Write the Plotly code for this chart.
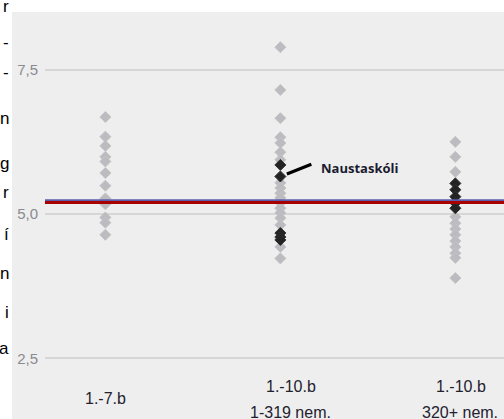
import plotly.graph_objects as go

# ---- data ----
categories = ["1.-7.b", "1.-10.b 1-319 nem.", "1.-10.b 320+ nem."]
tick_line1 = ["1.-7.b", "1.-10.b", "1.-10.b"]
tick_line2 = ["", "1-319 nem.", "320+ nem."]

gray_values = [
    [6.68, 6.34, 6.18, 5.99, 5.91, 5.71, 5.49, 5.27, 5.17, 4.94, 4.85, 4.64],
    [7.89, 7.15, 6.66, 6.33, 6.23, 6.07, 5.94, 5.54, 5.45, 5.36, 5.28, 5.19,
     5.10, 5.02, 4.93, 4.81, 4.43, 4.23],
    [6.25, 5.99, 5.73, 4.95, 4.84, 4.74, 4.64, 4.53, 4.43, 4.32, 4.24, 3.89],
]
black_values = [
    [],
    [5.85, 5.65, 4.67, 4.60, 4.55],
    [5.53, 5.42, 5.30, 5.19, 5.10],
]
red_line_value = 5.20
blue_line_value = 5.24
label_text = "Naustaskóli"
label_category = categories[1]
label_value = 5.65
y_ticks = [2.5, 5.0, 7.5]
y_tick_text = ["2,5", "5,0", "7,5"]

# left-edge fragments of neighbouring page text
side_chars = ["r", "-", "-", "n", "g", "r", "í", "n", "i", "a"]
side_rows = [6, 43, 72, 118, 163, 192, 234, 273, 312, 348]

# ---- layout geometry ----
W, H = 504, 419
ML, MR, MT, MB = 45, 0, 12, 44
PW, PH = W - ML - MR, H - MT - MB


def px_x(p):
    return (p - ML) / PW


def px_y(p):
    return 1 - (p - MT) / PH


fig = go.Figure()

gx, gy, bx, by = [], [], [], []
for c, vals in zip(categories, gray_values):
    gx += [c] * len(vals)
    gy += vals
for c, vals in zip(categories, black_values):
    bx += [c] * len(vals)
    by += vals

fig.add_trace(go.Scatter(x=gx, y=gy, mode="markers",
                         marker=dict(symbol="diamond", size=8.5, color="#bcbcc0",
                                     line=dict(width=1, color="#c4c4c7")),
                         hoverinfo="y", showlegend=False))
fig.add_trace(go.Scatter(x=bx, y=by, mode="markers",
                         marker=dict(symbol="diamond", size=8.5, color="#232323",
                                     line=dict(width=1, color="#303030")),
                         hoverinfo="y", showlegend=False))

shapes = [
    dict(type="line", xref="paper", x0=0, x1=1, yref="y",
         y0=blue_line_value, y1=blue_line_value,
         line=dict(color="#5c5cab", width=1.6)),
    dict(type="line", xref="paper", x0=0, x1=1, yref="y",
         y0=red_line_value, y1=red_line_value,
         line=dict(color="#a80000", width=3)),
    # white page border outside the grey chart card
    dict(type="rect", xref="paper", yref="paper", x0=px_x(-5), x1=px_x(W + 5),
         y0=px_y(12), y1=px_y(-10), fillcolor="white", line=dict(width=0),
         layer="above"),
    dict(type="rect", xref="paper", yref="paper", x0=px_x(-5), x1=px_x(12),
         y0=px_y(H + 10), y1=px_y(-10), fillcolor="white", line=dict(width=0),
         layer="above"),
]

annotations = []
tick_font = dict(family="Liberation Sans", size=16, color="#22222e")
for i, (c, l1, l2) in enumerate(zip(categories, tick_line1, tick_line2)):
    xs = [0, 11, 6][i]
    if l2:
        annotations.append(dict(x=c, xref="x", y=px_y(386.5), yref="paper",
                                yanchor="middle", text=l1, showarrow=False,
                                xshift=xs, font=tick_font))
        annotations.append(dict(x=c, xref="x", y=px_y(412), yref="paper",
                                yanchor="middle", text=l2, showarrow=False,
                                xshift=xs - 1, font=tick_font))
    else:
        annotations.append(dict(x=c, xref="x", y=px_y(398.5), yref="paper",
                                yanchor="middle", text=l1, showarrow=False,
                                xshift=xs, font=tick_font))

# pointer line + label
annotations.append(dict(x=label_category, y=label_value, xref="x", yref="y",
                        text=" ", showarrow=True, arrowhead=0, arrowwidth=3.2,
                        arrowcolor="black", ax=33, ay=-13, standoff=7,
                        font=dict(size=2)))
annotations.append(dict(x=label_category, y=label_value, xref="x", yref="y",
                        text="<b>" + label_text + "</b>", showarrow=False,
                        xanchor="left", yanchor="middle", xshift=39, yshift=8,
                        font=dict(family="Open Sans", size=13, color="#1b1b30")))

for ch, row in zip(side_chars, side_rows):
    annotations.append(dict(x=px_x(11), y=px_y(row), xref="paper", yref="paper",
                            text=ch, showarrow=False, xanchor="right",
                            yanchor="middle",
                            font=dict(family="Liberation Sans", size=17,
                                      color="black")))

fig.update_layout(
    width=W, height=H,
    margin=dict(l=ML, r=MR, t=MT, b=MB),
    paper_bgcolor="#eeeeee", plot_bgcolor="#eeeeee",
    separators=",.",
    shapes=shapes, annotations=annotations,
    xaxis=dict(type="category", categoryorder="array", categoryarray=categories,
               range=[-0.345, 2.278], showgrid=False, zeroline=False,
               showticklabels=False, showline=False, fixedrange=True),
    yaxis=dict(range=[2.21, 8.50], tickvals=y_ticks, ticktext=y_tick_text,
               showgrid=True, gridcolor="#d6d6d6", gridwidth=1.5, zeroline=False,
               showline=False, ticks="", ticklabelstandoff=6,
               tickfont=dict(family="Liberation Sans", size=15, color="#8a8a90")),
)

fig.write_html("out.html", config={"displayModeBar": False},
               post_script="document.body.style.margin='0px';"
                           "document.body.style.overflow='hidden';")
